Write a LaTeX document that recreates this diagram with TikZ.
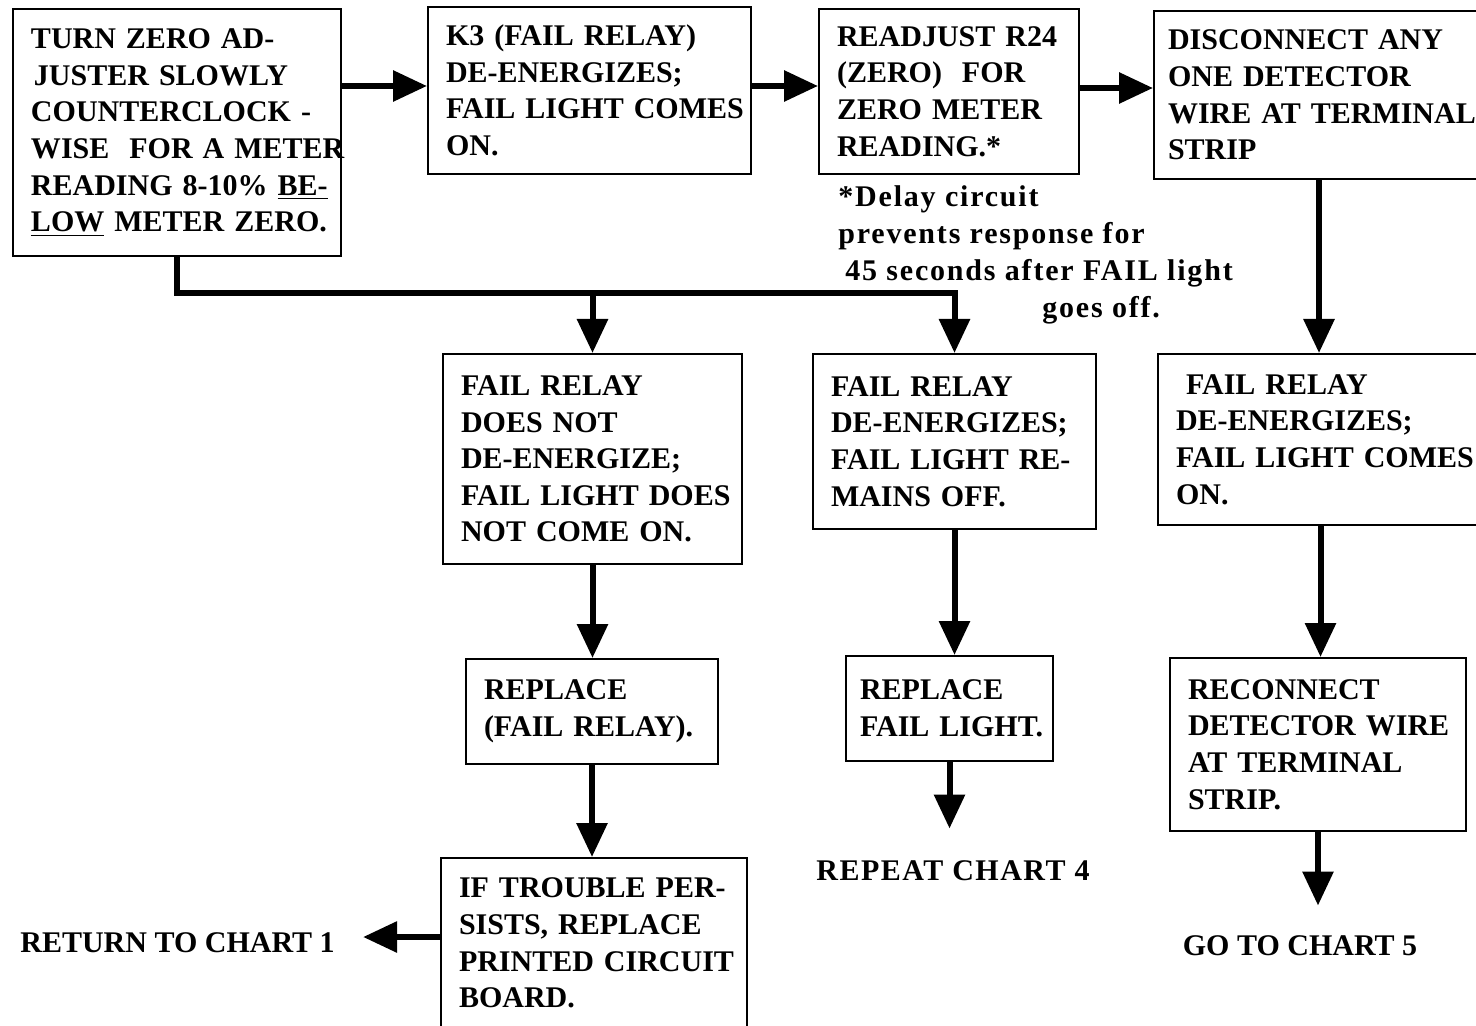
\documentclass[tikz,border=0pt]{standalone}
\usepackage{fontspec}
\setmainfont{Liberation Serif}
\usetikzlibrary{arrows.meta}
\hyphenpenalty=10000
\exhyphenpenalty=10000
\hbadness=10000
\hfuzz=100pt
\begin{document}
\begin{tikzpicture}[x=0.5pt,y=-0.5pt,
  txt/.style={font=\bfseries\fontsize{15}{18.3}\selectfont, inner sep=0pt},
  bx/.style={txt, draw, line width=1pt, anchor=north west, align=left, inner xsep=9pt, inner ysep=0pt},
  ln/.style={line width=3pt},
  arr/.style={line width=3pt, -{Triangle[width=15pt,length=17pt]}}]
\useasboundingbox (0,0) rectangle (1476,1026);
% top row
\node[bx, text width=146pt, minimum height=123.5pt] (b1) at (12,8)
 {TURN~ZERO~AD-\\\hspace*{1.5pt}JUSTER~SLOWLY\\COUNTERCLOCK~-\\WISE~~FOR~A~METER\\READING~8-10\%~\underline{BE-}\\\underline{LOW}~METER~ZERO.};
\node[bx, text width=143.5pt, minimum height=83.5pt] (b2) at (427,6)
 {K3~(FAIL~RELAY)\\DE-ENERGIZES;\\FAIL~LIGHT~COMES\\ON.};
\node[bx, text width=112pt, minimum height=82.5pt] (b3) at (818,8)
 {READJUST~R24\\(ZERO)~~FOR\\ZERO~METER\\READING.*};
\node[bx, text width=151pt, minimum height=84pt, inner xsep=7pt] (b4) at (1153,10)
 {DISCONNECT~ANY\\ONE~DETECTOR\\WIRE~AT~TERMINAL\\STRIP};
% footnote
\node[txt, anchor=north west, align=left, font=\bfseries\fontsize{15}{18.5}\selectfont\addfontfeatures{LetterSpace=6}] (note) at (838,185)
 {*Delay~circuit\\prevents~response~for\\\hspace*{3.5pt}45~seconds~after~FAIL~light\\\hspace*{102pt}goes~off.};
% second row
\node[bx, text width=131.5pt, minimum height=105pt] (b5) at (442,353)
 {FAIL~RELAY\\DOES~NOT\\DE-ENERGIZE;\\FAIL~LIGHT~DOES\\NOT~COME~ON.};
\node[bx, text width=123.5pt, minimum height=87.5pt] (b6) at (812,353)
 {FAIL~RELAY\\DE-ENERGIZES;\\FAIL~LIGHT~RE-\\MAINS~OFF.};
\node[bx, text width=144.5pt, minimum height=85.5pt] (b7) at (1157,353)
 {\hspace*{5pt}FAIL~RELAY\\DE-ENERGIZES;\\FAIL~LIGHT~COMES\\ON.};
% third row
\node[bx, text width=108pt, minimum height=52.5pt] (b8) at (465,658)
 {REPLACE\\(FAIL~RELAY).};
\node[bx, text width=89.5pt, minimum height=52.5pt, inner xsep=7pt] (b9) at (845,655)
 {REPLACE\\FAIL~LIGHT.};
\node[bx, text width=130pt, minimum height=86.5pt] (b10) at (1169,657)
 {RECONNECT\\DETECTOR~WIRE\\AT~TERMINAL\\STRIP.};
% fourth row
\node[bx, text width=135pt, minimum height=85pt] (b11) at (440,857)
 {IF~TROUBLE~PER-\\SISTS,~REPLACE\\PRINTED~CIRCUIT\\BOARD.};
% end labels
\node[txt, anchor=west] (r1) at (20,943) {RETURN TO CHART 1};
\node[txt, font=\bfseries\fontsize{15}{18.3}\selectfont\addfontfeatures{LetterSpace=5}] (r4) at (953,871) {REPEAT CHART 4};
\node[txt] (r5) at (1300,946) {GO TO CHART 5};
% connectors
\coordinate (bus) at (0,293);
\draw[arr] (b1.east |- 0,86) -- (b2.west |- 0,86);
\draw[arr] (b2.east |- 0,86) -- (b3.west |- 0,86);
\draw[arr] (b3.east |- 0,88) -- (b4.west |- 0,88);
\draw[arr] (b1.south) |- (bus -| b6.north) -- (b6.north);
\draw[arr] (bus -| b5.north) -- (b5.north);
\draw[arr] (b4.south) -- (b4.south |- b7.north);
\draw[arr] (b5.south) -- (b5.south |- b8.north);
\draw[arr] (b6.south) -- (b6.south |- b9.north);
\draw[arr] (b7.south) -- (b7.south |- b10.north);
\draw[arr] (b8.south) -- (b8.south |- b11.north);
\draw[arr, shorten >=14pt] (b11.west |- 0,937) -- (r1.east |- 0,937);
\draw[arr, shorten >=16pt] (b9.south) -- (b9.south |- r4.north);
\draw[arr, shorten >=15pt] (b10.south) -- (b10.south |- r5.north);
\end{tikzpicture}
\end{document}
